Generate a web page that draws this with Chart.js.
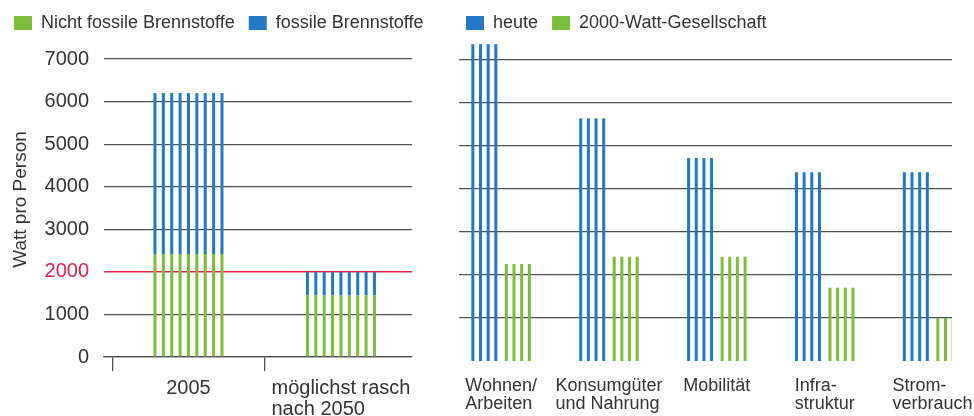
<!DOCTYPE html>
<html>
<head>
<meta charset="utf-8">
<script src="https://cdn.jsdelivr.net/npm/chart.js@4.4.0/dist/chart.umd.min.js"></script>
<style>
body { margin: 0; background: #fff; overflow: hidden; }
#links { position: absolute; left: 0; top: 0; }
#rechts { position: absolute; left: 440px; top: 0; }
</style>
</head>
<body>
<canvas id="links" width="460" height="416"></canvas>
<canvas id="rechts" width="534" height="416"></canvas>
<script>
// linke Grafik: Watt pro Person, gestapelt
var zeitpunkte = ['2005', ['möglichst rasch', 'nach 2050']];
var nichtFossil = [2420, 1450];
var fossil = [3780, 550];

// rechte Grafik: nach Bereichen
var bereiche = [['Wohnen/', 'Arbeiten'], ['Konsumgüter', 'und Nahrung'], ['Mobilität'], ['Infra-', 'struktur'], ['Strom-', 'verbrauch']];
var heute = [7350, 5630, 4710, 4380, 4380];
var zielWatt = [2250, 2420, 2420, 1700, 1000];

var yTicksLinks = [0, 1000, 2000, 3000, 4000, 5000, 6000, 7000];
var yTicksRechts = [1000, 2000, 3000, 4000, 5000, 6000, 7000];

var blau = '#2279c8';
var gruen = '#7dbd3b';
var rot = '#e3204b';
var grau = '#505050';

Chart.defaults.font.family = '"Liberation Sans", Arial, Helvetica, sans-serif';
Chart.defaults.color = '#333';

// Balken als senkrechte Streifen zeichnen
var streifen = {
  id: 'streifen',
  beforeDatasetDraw(chart, args) {
    var ds = chart.data.datasets[args.index];
    var ctx = chart.ctx;
    var a = chart.chartArea;
    ctx.save();
    ctx.beginPath();
    ctx.rect(a.left, 0, a.right - a.left, chart.height);
    ctx.clip();
    ctx.fillStyle = ds.backgroundColor;
    args.meta.data.forEach(function (bar) {
      var p = bar.getProps(['x', 'y', 'base', 'width'], true);
      var n = ds.stripes;
      var lw = 3;
      var left = p.x - p.width / 2;
      var step = (p.width - lw) / (n - 1);
      var top = Math.min(p.y, p.base);
      var h = Math.abs(p.base - p.y);
      for (var i = 0; i < n; i++) {
        ctx.fillRect(left + i * step, top, lw, h);
      }
    });
    ctx.restore();
    return false;
  }
};

// Beschriftung unter den Balken, Zeilen linksbündig
function xLabels(labels, size, gap, zeile) {
  return {
    id: 'xLabels',
    afterDraw(chart) {
      var ctx = chart.ctx;
      var xs = chart.scales.x;
      var a = chart.chartArea;
      ctx.save();
      ctx.font = size + 'px "Liberation Sans", Arial, sans-serif';
      ctx.fillStyle = '#333';
      ctx.textAlign = 'left';
      ctx.textBaseline = 'alphabetic';
      labels.forEach(function (lab, i) {
        var lines = [].concat(lab);
        var w = Math.max.apply(null, lines.map(function (l) { return ctx.measureText(l).width; }));
        var x0 = xs.getPixelForValue(i) - w / 2;
        lines.forEach(function (l, j) {
          ctx.fillText(l, x0, a.bottom + gap + j * zeile);
        });
      });
      ctx.restore();
    }
  };
}

var legende = {
  position: 'top',
  align: 'start',
  labels: { boxWidth: 18, boxHeight: 14, padding: 14, font: { size: 18 }, color: '#333' }
};

new Chart(document.getElementById('links'), {
  type: 'bar',
  data: {
    datasets: [{
      label: 'Nicht fossile Brennstoffe',
      data: nichtFossil.map(function (v, i) { return { x: i, y: v }; }),
      backgroundColor: gruen,
      borderWidth: 0,
      stripes: 9
    }, {
      label: 'fossile Brennstoffe',
      data: fossil.map(function (v, i) { return { x: i, y: v }; }),
      backgroundColor: blau,
      borderWidth: 0,
      stripes: 9
    }]
  },
  options: {
    responsive: false,
    animation: false,
    categoryPercentage: 0.8,
    barPercentage: 0.574,
    layout: { padding: { left: 0, right: 0, top: 0, bottom: 45 } },
    plugins: { legend: legende, tooltip: { enabled: false } },
    scales: {
      x: {
        type: 'linear',
        stacked: true,
        offset: false,
        min: -0.554,
        max: 1.466,
        afterBuildTicks: function (s) { s.ticks = [{ value: -0.5 }, { value: 0.5 }]; },
        ticks: { display: false },
        grid: { offset: false, drawOnChartArea: false, drawTicks: true, tickLength: 14, color: grau, lineWidth: 1.3 },
        border: { color: grau, width: 1.3 }
      },
      y: {
        stacked: true,
        min: 0,
        max: 7400,
        z: 1,
        afterBuildTicks: function (s) { s.ticks = yTicksLinks.map(function (v) { return { value: v }; }); },
        afterFit: function (s) { s.width = 104; },
        ticks: {
          padding: 15,
          font: { size: 20 },
          callback: function (v) { return String(v); },
          color: function (c) { return c.tick && c.tick.value === 2000 ? rot : '#333'; }
        },
        grid: {
          drawTicks: false,
          color: function (c) { return c.tick && c.tick.value === 2000 ? rot : grau; },
          lineWidth: function (c) { return c.tick && c.tick.value === 2000 ? 1.5 : 1.3; }
        },
        border: { display: false },
        title: { display: true, text: 'Watt pro Person', font: { size: 19 }, color: '#333', padding: { top: 9, bottom: 0 } }
      },
      rand: {
        position: 'right',
        min: 0,
        max: 1,
        afterFit: function (s) { s.width = 48; },
        ticks: { display: false },
        grid: { display: false },
        border: { display: false }
      }
    }
  },
  plugins: [streifen, xLabels(zeitpunkte, 20, 37, 21)]
});

new Chart(document.getElementById('rechts'), {
  type: 'bar',
  data: {
    datasets: [{
      label: 'heute',
      data: heute.map(function (v, i) { return { x: i, y: v }; }),
      backgroundColor: blau,
      borderWidth: 0,
      stripes: 4
    }, {
      label: '2000-Watt-Gesellschaft',
      data: zielWatt.map(function (v, i) { return { x: i, y: v }; }),
      backgroundColor: gruen,
      borderWidth: 0,
      stripes: 4
    }]
  },
  options: {
    responsive: false,
    animation: false,
    categoryPercentage: 0.621,
    barPercentage: 0.776,
    layout: { padding: { left: 12, right: 22, top: 0, bottom: 55 } },
    plugins: { legend: legende, tooltip: { enabled: false } },
    scales: {
      x: {
        type: 'linear',
        display: false,
        offset: false,
        min: -0.39,
        max: 4.18,
        afterBuildTicks: function (s) { s.ticks = bereiche.map(function (b, i) { return { value: i }; }); }
      },
      y: {
        min: 0,
        max: 7400,
        z: 1,
        afterBuildTicks: function (s) { s.ticks = yTicksRechts.map(function (v) { return { value: v }; }); },
        afterFit: function (s) { s.width = 7; },
        ticks: { display: false },
        grid: { drawTicks: false, color: grau, lineWidth: 1.3 },
        border: { display: false }
      }
    }
  },
  plugins: [streifen, xLabels(bereiche, 18, 30, 18)]
});
</script>
</body>
</html>
